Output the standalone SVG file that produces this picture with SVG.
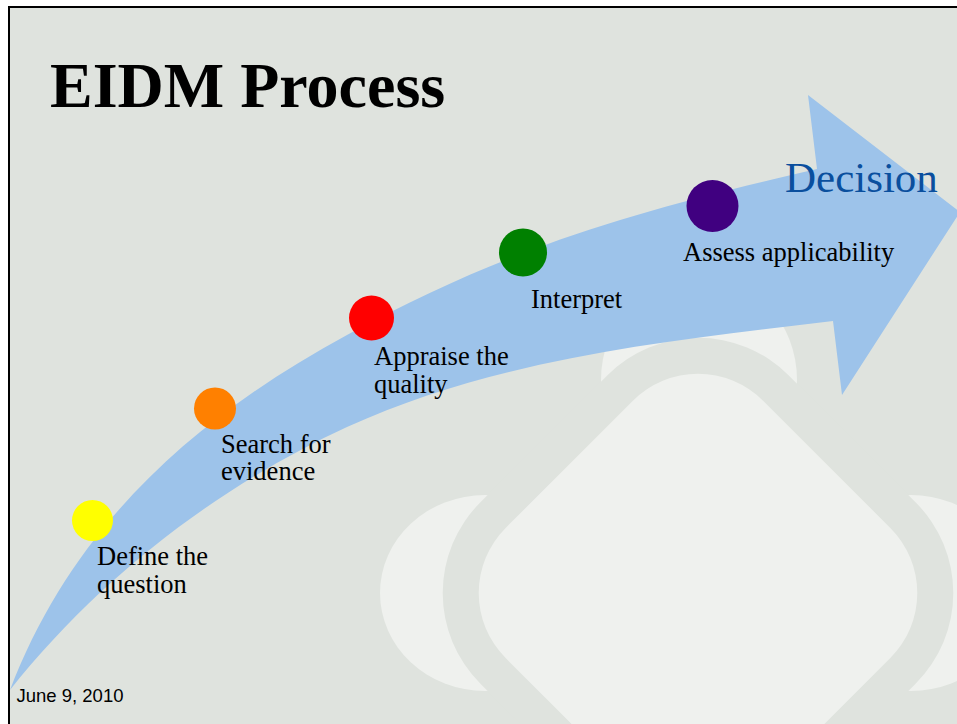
<svg xmlns="http://www.w3.org/2000/svg" width="957" height="724" viewBox="0 0 957 724">
<style>
.lbl{font-family:"Liberation Serif","Times New Roman",serif;font-size:26.5px;fill:#000}
.light{fill:#eff1ee}
.bgc{fill:#dfe3de}
</style>
<rect x="0" y="0" width="957" height="724" fill="#ffffff"/>
<rect x="9" y="7" width="970" height="740" class="bgc" stroke="#000" stroke-width="2"/>
<g id="logo">
<ellipse class="light" cx="699" cy="380" rx="98" ry="105"/>
<ellipse class="light" cx="485" cy="593" rx="105" ry="98"/>
<ellipse class="light" cx="911" cy="593" rx="105" ry="98"/>
<ellipse class="light" cx="698" cy="806" rx="98" ry="105"/>
<rect class="bgc" x="480" y="375" width="436" height="436" rx="128" transform="rotate(45 698 593)"/>
<rect class="light" x="516" y="411" width="364" height="364" rx="92" transform="rotate(45 698 593)"/>
</g>
<text x="50" y="107" font-family="'Liberation Serif','Times New Roman',serif" font-size="64" font-weight="bold" fill="#000">EIDM Process</text>
<g id="connectors">
<path id="arrow" d="M10,690 C72.6,526.6 193,418.6 347,335 C509,246.6 637,210.4 817,169 L808,95 L960,212 L842,395 L833,321 C668,341 498,358 347,427 C217,487 99,578 10,690 Z" fill="#9dc3ea"/>
</g>
<text x="785" y="192" font-family="'Liberation Serif','Times New Roman',serif" font-size="43" fill="#0a4f9e">Decision</text>
<g id="define">
<circle cx="92.5" cy="520.5" r="20.5" fill="#ffff00"/>
<text class="lbl" x="97" y="565">Define the</text>
<text class="lbl" x="97" y="593">question</text>
</g>
<g id="search">
<circle cx="215" cy="408.5" r="21" fill="#ff8000"/>
<text class="lbl" x="221" y="452.5">Search for</text>
<text class="lbl" x="221" y="480">evidence</text>
</g>
<g id="appraise">
<circle cx="371.5" cy="318" r="22.5" fill="#ff0000"/>
<text class="lbl" x="374" y="365">Appraise the</text>
<text class="lbl" x="374" y="392.5">quality</text>
</g>
<g id="interpret">
<circle cx="523" cy="252.5" r="24" fill="#008000"/>
<text class="lbl" x="531" y="308">Interpret</text>
</g>
<g id="assess">
<circle cx="712.5" cy="206" r="26" fill="#400080"/>
<text class="lbl" x="683" y="261">Assess applicability</text>
</g>
<text x="16.5" y="701.5" font-family="'Liberation Sans',Arial,sans-serif" font-size="18.5" fill="#000">June 9, 2010</text>
</svg>
